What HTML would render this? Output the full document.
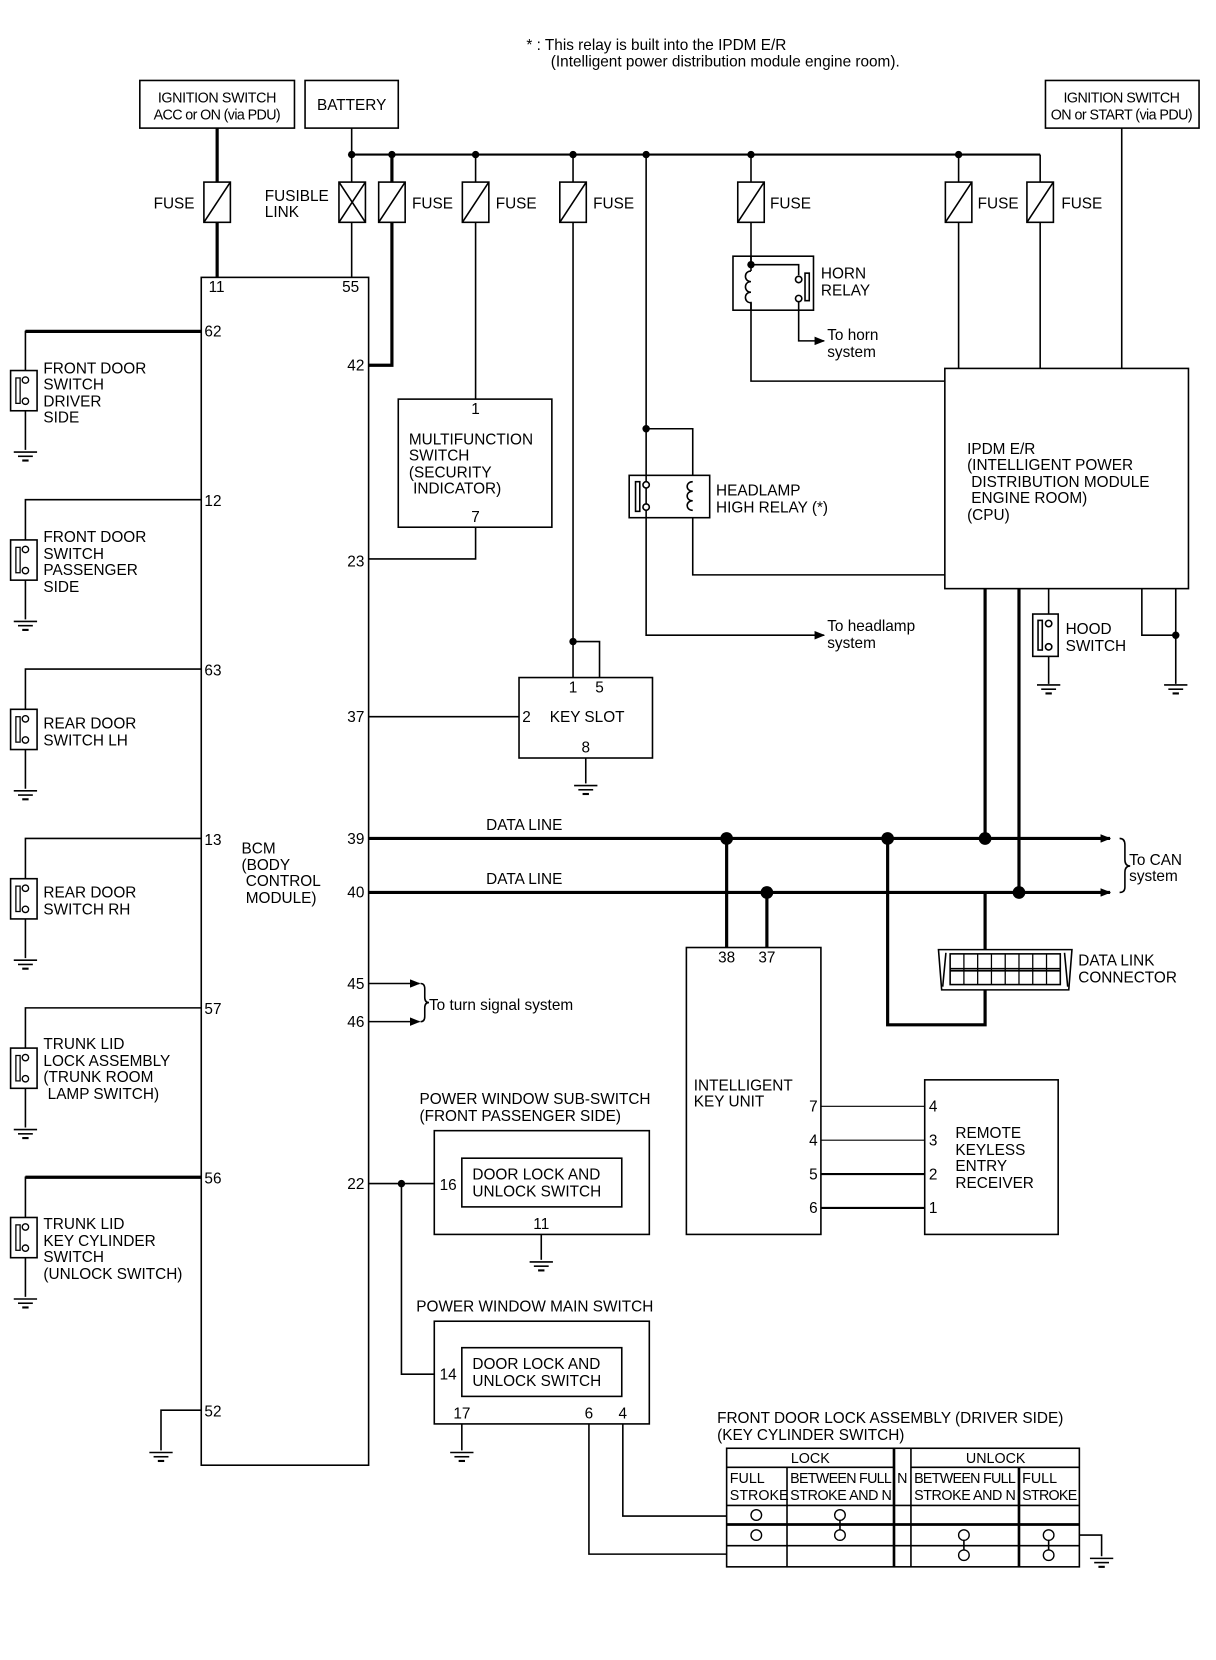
<!DOCTYPE html>
<html><head><meta charset="utf-8"><style>
html,body{margin:0;padding:0;background:#fff}
svg{display:block}
text{font-family:"Liberation Sans",sans-serif;font-size:14.5px;fill:#000}
.s{font-size:13.5px}
</style></head><body>
<svg width="1216" height="1660" viewBox="0 0 1148 1568" preserveAspectRatio="none" xmlns="http://www.w3.org/2000/svg">
<defs>
<g id="gnd"><line x1="-11" y1="0" x2="11" y2="0" stroke="#000" stroke-width="1.5"/><line x1="-7" y1="4" x2="7" y2="4" stroke="#000" stroke-width="1.5"/><line x1="-3" y1="8" x2="3" y2="8" stroke="#000" stroke-width="2"/></g>
<g id="fuse"><rect x="-12.5" y="0" width="25" height="38" fill="#fff" stroke="#000" stroke-width="1.5"/><line x1="-12.5" y1="38" x2="12.5" y2="0" stroke="#000" stroke-width="1.5"/></g>
<g id="dsw"><rect x="-14" y="0" width="25" height="38" fill="#fff" stroke="#000" stroke-width="1.5"/><rect x="-9" y="7" width="4" height="24" fill="#fff" stroke="#000" stroke-width="1.2"/><circle cx="0" cy="9" r="3" fill="#fff" stroke="#000" stroke-width="1.3"/><circle cx="0" cy="29" r="3" fill="#fff" stroke="#000" stroke-width="1.3"/></g>
<marker id="ar" markerWidth="10" markerHeight="8" refX="9" refY="4" orient="auto" markerUnits="userSpaceOnUse"><path d="M0,0 L10,4 L0,8 z" fill="#000"/></marker>
</defs>
<g stroke="#000" fill="none" stroke-width="1.5">
<rect x="132" y="76" width="146" height="45"/>
<rect x="288" y="76" width="88" height="45"/>
<rect x="987" y="76" width="145" height="45"/>
<line x1="332" y1="146" x2="982" y2="146" stroke-width="2"/>
<line x1="332" y1="121" x2="332" y2="262"/>
<line x1="205" y1="121" x2="205" y2="262" stroke-width="3"/>
<polyline points="370,146 370,345 348,345" stroke-width="3"/>
<line x1="449" y1="146" x2="449" y2="377"/>
<polyline points="541,146 541,640"/>
<polyline points="541,606 566,606 566,640"/>
<polyline points="610,146 610,600 778,600" marker-end="url(#ar)"/>
<polyline points="610,405 654,405 654,449"/>
<polyline points="654,489 654,543 892,543"/>
<line x1="709" y1="146" x2="709" y2="250"/>
<polyline points="709,250 754,250 754,260"/>
<polyline points="709,285 709,360 892,360"/>
<polyline points="754,285 754,322 778,322" marker-end="url(#ar)"/>
<line x1="905" y1="146" x2="905" y2="348"/>
<polyline points="982,146 982,348"/>
<line x1="1059" y1="121" x2="1059" y2="348"/>
<rect x="190" y="262" width="158" height="1122"/>
<rect x="892" y="348" width="230" height="208"/>
<line x1="990" y1="556" x2="990" y2="646"/>
<polyline points="1078,556 1078,600 1110,600"/>
<line x1="1110" y1="556" x2="1110" y2="646"/>
<line x1="930" y1="556" x2="930" y2="792" stroke-width="3"/>
<line x1="962" y1="556" x2="962" y2="843" stroke-width="3"/>
<line x1="348" y1="792" x2="1048" y2="792" stroke-width="3" marker-end="url(#ar)"/>
<line x1="348" y1="843" x2="1048" y2="843" stroke-width="3" marker-end="url(#ar)"/>
<line x1="686" y1="792" x2="686" y2="895" stroke-width="3"/>
<line x1="724" y1="843" x2="724" y2="895" stroke-width="3"/>
<polyline points="838,792 838,968 930,968 930,843" stroke-width="3"/>
<path d="M1057,792 q5,0 5,6 v14 q0,6 5,6 q-5,0 -5,6 v14 q0,5 -5,5"/>
<path d="M886,897 h126 l-3,38 h-120 z" fill="#fff"/>
<line x1="893" y1="900" x2="890" y2="932"/><line x1="1005" y1="900" x2="1008" y2="932"/>
<rect x="897" y="901" width="104" height="29" fill="#fff"/>
<line x1="897" y1="915" x2="1001" y2="915"/><line x1="897" y1="917" x2="1001" y2="917"/>
<path d="M910,901v29M923,901v29M936,901v29M949,901v29M962,901v29M975,901v29M988,901v29" stroke-width="1.2"/>
<rect x="376" y="377" width="145" height="121"/>
<polyline points="449,498 449,528 348,528"/>
<rect x="490" y="640" width="126" height="76"/>
<line x1="348" y1="677" x2="490" y2="677"/>
<line x1="553" y1="716" x2="553" y2="740"/>
<line x1="348" y1="929" x2="396" y2="929" marker-end="url(#ar)"/>
<line x1="348" y1="965" x2="396" y2="965" marker-end="url(#ar)"/>
<path d="M397,929 q4,0 4,5 v8 q0,5 4,5 q-4,0 -4,5 v8 q0,5 -4,5"/>
<rect x="410" y="1068" width="203" height="98"/>
<rect x="436" y="1094" width="151" height="46"/>
<line x1="511" y1="1166" x2="511" y2="1190"/>
<line x1="348" y1="1118" x2="410" y2="1118"/>
<polyline points="379,1118 379,1298 410,1298"/>
<rect x="410" y="1248" width="203" height="97"/>
<rect x="436" y="1273" width="151" height="46"/>
<line x1="436" y1="1345" x2="436" y2="1370"/>
<polyline points="556,1345 556,1468 686,1468"/>
<polyline points="588,1345 588,1432 686,1432"/>
<rect x="648" y="895" width="127" height="271"/>
<rect x="873" y="1020" width="126" height="146"/>
<line x1="775" y1="1045" x2="873" y2="1045" stroke-width="1"/>
<line x1="775" y1="1077" x2="873" y2="1077" stroke-width="1"/>
<line x1="775" y1="1109" x2="873" y2="1109" stroke-width="2"/>
<line x1="775" y1="1141" x2="873" y2="1141" stroke-width="2"/>
<polyline points="190,313 24,313 24,425" stroke-width="1.5"/>
<line x1="190" y1="313" x2="24" y2="313" stroke-width="3"/>
<polyline points="190,472 24,472 24,585"/>
<polyline points="190,632 24,632 24,745"/>
<polyline points="190,792 24,792 24,905"/>
<polyline points="190,952 24,952 24,1065"/>
<polyline points="190,1112 24,1112 24,1225"/>
<line x1="190" y1="1112" x2="24" y2="1112" stroke-width="3"/>
<polyline points="190,1332 152,1332 152,1370"/>
<rect x="686" y="1368" width="333" height="112"/>
<line x1="686" y1="1386" x2="844" y2="1386"/><line x1="860" y1="1386" x2="1019" y2="1386"/>
<line x1="686" y1="1422" x2="1019" y2="1422"/>
<line x1="686" y1="1440" x2="1019" y2="1440" stroke-width="2.5"/>
<line x1="686" y1="1460" x2="1019" y2="1460"/>
<line x1="743" y1="1386" x2="743" y2="1480"/>
<line x1="844" y1="1368" x2="844" y2="1480" stroke-width="2.5"/>
<line x1="860" y1="1368" x2="860" y2="1480"/>
<line x1="962" y1="1386" x2="962" y2="1480" stroke-width="2.5"/>
<polyline points="1019,1450 1040,1450 1040,1470"/>
<line x1="793" y1="1436" x2="793" y2="1445"/>
<line x1="910" y1="1454" x2="910" y2="1465"/>
<line x1="990" y1="1454" x2="990" y2="1465"/>
</g>
<g fill="#fff" stroke="#000" stroke-width="1.3">
<circle cx="714" cy="1431" r="5"/><circle cx="793" cy="1431" r="5"/>
<circle cx="714" cy="1450" r="5"/><circle cx="793" cy="1450" r="5"/>
<circle cx="910" cy="1450" r="5"/><circle cx="990" cy="1450" r="5"/>
<circle cx="910" cy="1469" r="5"/><circle cx="990" cy="1469" r="5"/>
</g>
<use href="#fuse" x="205" y="172"/><use href="#fuse" x="370" y="172"/><use href="#fuse" x="449" y="172"/>
<use href="#fuse" x="541" y="172"/><use href="#fuse" x="709" y="172"/><use href="#fuse" x="905" y="172"/><use href="#fuse" x="982" y="172"/>
<g stroke="#000" stroke-width="1.5" fill="#fff"><rect x="320" y="172" width="25" height="38"/><path d="M320,172 L345,210 M345,172 L320,210"/></g>
<g stroke="#000" stroke-width="1.5" fill="none">
<rect x="692" y="242" width="76" height="51"/>
<path d="M709,256 c-7,0 -7,10 0,10 c-7,0 -7,10 0,10 c-7,0 -7,10 0,10"/>
<circle cx="754" cy="264" r="3" fill="#fff"/><circle cx="754" cy="282" r="3" fill="#fff"/>
<rect x="760" y="258" width="4" height="26" fill="#fff"/>
<line x1="709" y1="242" x2="709" y2="256"/><line x1="709" y1="286" x2="709" y2="293"/>
<rect x="594" y="449" width="76" height="40"/>
<rect x="600" y="455" width="4" height="28" fill="#fff"/>
<circle cx="610" cy="458" r="3" fill="#fff"/><circle cx="610" cy="479" r="3" fill="#fff"/>
<path d="M654,455 c-7,0 -7,9 0,9 c-7,0 -7,9 0,9 c-7,0 -7,9 0,9"/>
</g>
<use href="#dsw" x="24" y="350"/><use href="#dsw" x="24" y="510"/><use href="#dsw" x="24" y="670"/>
<use href="#dsw" x="24" y="830"/><use href="#dsw" x="24" y="990"/><use href="#dsw" x="24" y="1150"/>
<g stroke="#000" stroke-width="1.5" fill="#fff"><rect x="975" y="580" width="24" height="40"/><rect x="980" y="586" width="4" height="28"/><circle cx="990" cy="589" r="3"/><circle cx="990" cy="611" r="3"/></g>
<use href="#gnd" x="24" y="427"/><use href="#gnd" x="24" y="587"/><use href="#gnd" x="24" y="747"/><use href="#gnd" x="24" y="907"/>
<use href="#gnd" x="24" y="1067"/><use href="#gnd" x="24" y="1227"/><use href="#gnd" x="152" y="1372"/>
<use href="#gnd" x="553" y="742"/><use href="#gnd" x="990" y="647"/><use href="#gnd" x="1110" y="647"/>
<use href="#gnd" x="511" y="1192"/><use href="#gnd" x="436" y="1372"/><use href="#gnd" x="1040" y="1472"/>
<g fill="#000">
<circle cx="332" cy="146" r="3.5"/><circle cx="370" cy="146" r="3.5"/><circle cx="449" cy="146" r="3.5"/><circle cx="541" cy="146" r="3.5"/>
<circle cx="610" cy="146" r="3.5"/><circle cx="709" cy="146" r="3.5"/><circle cx="905" cy="146" r="3.5"/>
<circle cx="610" cy="405" r="3.5"/><circle cx="541" cy="606" r="3.5"/><circle cx="709" cy="250" r="3.5"/><circle cx="1110" cy="600" r="3.5"/>
<circle cx="686" cy="792" r="6"/><circle cx="838" cy="792" r="6"/><circle cx="930" cy="792" r="6"/>
<circle cx="724" cy="843" r="6"/><circle cx="962" cy="843" r="6"/><circle cx="379" cy="1118" r="3.5"/>
</g>
<text x="497" y="47">* : This relay is built into the IPDM E/R</text>
<text x="520" y="63">(Intelligent power distribution module engine room).</text>
<text class="s" x="205" y="97" text-anchor="middle" textLength="112">IGNITION SWITCH</text>
<text class="s" x="205" y="113" text-anchor="middle" textLength="120">ACC or ON (via PDU)</text>
<text x="332" y="104" text-anchor="middle">BATTERY</text>
<text class="s" x="1059" y="97" text-anchor="middle" textLength="110">IGNITION SWITCH</text>
<text class="s" x="1059" y="113" text-anchor="middle" textLength="134">ON or START (via PDU)</text>
<text x="145" y="197">FUSE</text><text x="250" y="190">FUSIBLE</text><text x="250" y="205">LINK</text>
<text x="389" y="197">FUSE</text><text x="468" y="197">FUSE</text><text x="560" y="197">FUSE</text>
<text x="727" y="197">FUSE</text><text x="923" y="197">FUSE</text><text x="1002" y="197">FUSE</text>
<text x="775" y="263">HORN</text><text x="775" y="279">RELAY</text>
<text x="781" y="321">To horn</text><text x="781" y="337">system</text>
<text x="676" y="468">HEADLAMP</text><text x="676" y="484">HIGH RELAY (*)</text>
<text x="781" y="596">To headlamp</text><text x="781" y="612">system</text>
<text x="913" y="429">IPDM E/R</text><text x="913" y="444">(INTELLIGENT POWER</text><text x="917" y="460">DISTRIBUTION MODULE</text><text x="917" y="475">ENGINE ROOM)</text><text x="913" y="491">(CPU)</text>
<text x="1006" y="599">HOOD</text><text x="1006" y="615">SWITCH</text>
<text x="1066" y="817">To CAN</text><text x="1066" y="832">system</text>
<text x="459" y="784">DATA LINE</text><text x="459" y="835">DATA LINE</text>
<text x="1018" y="912">DATA LINK</text><text x="1018" y="928">CONNECTOR</text>
<text x="197" y="276">11</text><text x="323" y="276">55</text>
<text x="193" y="318">62</text><text x="193" y="478">12</text><text x="193" y="638">63</text><text x="193" y="798">13</text>
<text x="193" y="958">57</text><text x="193" y="1118">56</text><text x="193" y="1338">52</text>
<text x="344" y="350" text-anchor="end">42</text><text x="344" y="535" text-anchor="end">23</text><text x="344" y="682" text-anchor="end">37</text>
<text x="344" y="797" text-anchor="end">39</text><text x="344" y="848" text-anchor="end">40</text><text x="344" y="934" text-anchor="end">45</text>
<text x="344" y="970" text-anchor="end">46</text><text x="344" y="1123" text-anchor="end">22</text>
<text x="228" y="806">BCM</text><text x="228" y="822">(BODY</text><text x="232" y="837">CONTROL</text><text x="232" y="853">MODULE)</text>
<text x="41" y="353">FRONT DOOR</text><text x="41" y="368">SWITCH</text><text x="41" y="384">DRIVER</text><text x="41" y="399">SIDE</text>
<text x="41" y="512">FRONT DOOR</text><text x="41" y="528">SWITCH</text><text x="41" y="543">PASSENGER</text><text x="41" y="559">SIDE</text>
<text x="41" y="688">REAR DOOR</text><text x="41" y="704">SWITCH LH</text>
<text x="41" y="848">REAR DOOR</text><text x="41" y="864">SWITCH RH</text>
<text x="41" y="991">TRUNK LID</text><text x="41" y="1007">LOCK ASSEMBLY</text><text x="41" y="1022">(TRUNK ROOM</text><text x="45" y="1038">LAMP SWITCH)</text>
<text x="41" y="1161">TRUNK LID</text><text x="41" y="1177">KEY CYLINDER</text><text x="41" y="1192">SWITCH</text><text x="41" y="1208">(UNLOCK SWITCH)</text>
<text x="449" y="391" text-anchor="middle">1</text>
<text x="386" y="420">MULTIFUNCTION</text><text x="386" y="435">SWITCH</text><text x="386" y="451">(SECURITY</text><text x="390" y="466">INDICATOR)</text>
<text x="449" y="493" text-anchor="middle">7</text>
<text x="541" y="654" text-anchor="middle">1</text><text x="566" y="654" text-anchor="middle">5</text>
<text x="493" y="682">2</text><text x="519" y="682">KEY SLOT</text><text x="553" y="711" text-anchor="middle">8</text>
<text x="405" y="954">To turn signal system</text>
<text x="396" y="1043">POWER WINDOW SUB-SWITCH</text><text x="396" y="1059">(FRONT PASSENGER SIDE)</text>
<text x="446" y="1114">DOOR LOCK AND</text><text x="446" y="1130">UNLOCK SWITCH</text>
<text x="415" y="1124">16</text><text x="511" y="1161" text-anchor="middle">11</text>
<text x="393" y="1239">POWER WINDOW MAIN SWITCH</text>
<text x="446" y="1293">DOOR LOCK AND</text><text x="446" y="1309">UNLOCK SWITCH</text>
<text x="415" y="1303">14</text><text x="428" y="1340">17</text><text x="556" y="1340" text-anchor="middle">6</text><text x="588" y="1340" text-anchor="middle">4</text>
<text x="686" y="909" text-anchor="middle">38</text><text x="724" y="909" text-anchor="middle">37</text>
<text x="655" y="1030">INTELLIGENT</text><text x="655" y="1045">KEY UNIT</text>
<text x="772" y="1050" text-anchor="end">7</text><text x="772" y="1082" text-anchor="end">4</text><text x="772" y="1114" text-anchor="end">5</text><text x="772" y="1146" text-anchor="end">6</text>
<text x="877" y="1050">4</text><text x="877" y="1082">3</text><text x="877" y="1114">2</text><text x="877" y="1146">1</text>
<text x="902" y="1075">REMOTE</text><text x="902" y="1091">KEYLESS</text><text x="902" y="1106">ENTRY</text><text x="902" y="1122">RECEIVER</text>
<text x="677" y="1344">FRONT DOOR LOCK ASSEMBLY (DRIVER SIDE)</text><text x="677" y="1360">(KEY CYLINDER SWITCH)</text>
<text class="s" x="765" y="1382" text-anchor="middle">LOCK</text><text class="s" x="940" y="1382" text-anchor="middle">UNLOCK</text>
<text class="s" x="689" y="1401">FULL</text><text class="s" x="689" y="1417">STROKE</text>
<text class="s" x="746" y="1401" textLength="96">BETWEEN FULL</text><text class="s" x="746" y="1417" textLength="96">STROKE AND N</text>
<text class="s" x="847" y="1401">N</text>
<text class="s" x="863" y="1401" textLength="96">BETWEEN FULL</text><text class="s" x="863" y="1417" textLength="96">STROKE AND N</text>
<text class="s" x="965" y="1401">FULL</text><text class="s" x="965" y="1417" textLength="52">STROKE</text>
</svg>
</body></html>
